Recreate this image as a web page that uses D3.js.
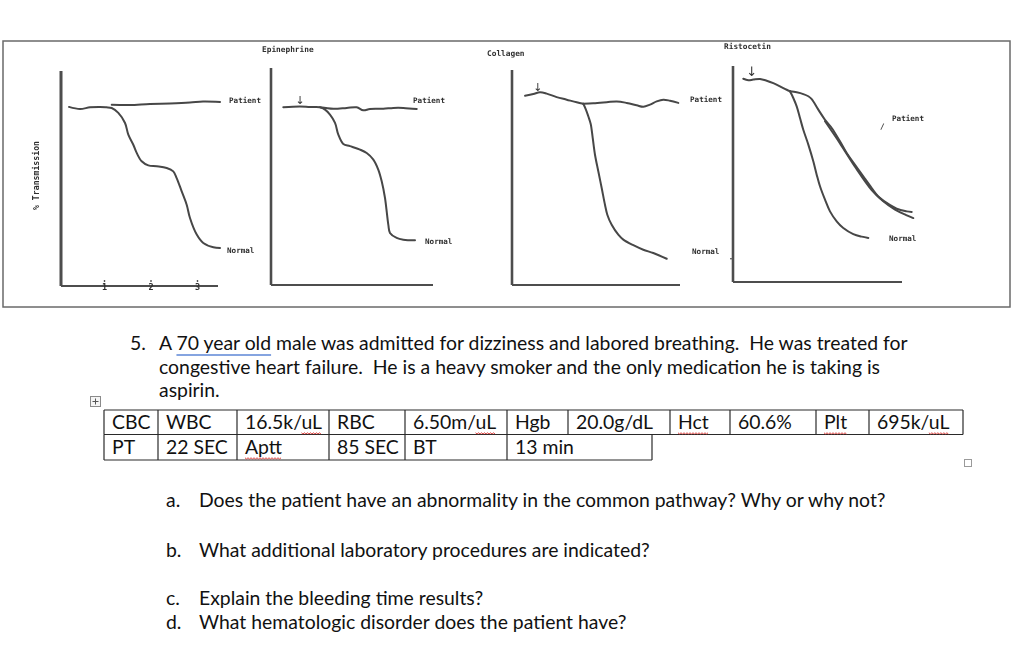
<!DOCTYPE html>
<html lang="en">
<head>
<meta charset="UTF-8">
<title>Platelet aggregation case study</title>
<script src="https://d3js.org/d3.v7.min.js"></script>
<style>
    html, body { margin: 0; padding: 0; background: #fff; }
    svg { display: block; }
    .scan-text {
        font-family: "DejaVu Sans Mono", "Liberation Mono", monospace;
        font-weight: 700;
        fill: #2e2e2e;
    }
    .trace {
        fill: none;
        stroke: #474747;
        stroke-width: 2px;
        stroke-linejoin: round;
        stroke-linecap: round;
    }
    .doc-text {
        font-family: Lato, "Open Sans", sans-serif;
        fill: #111;
        white-space: pre;
    }
</style>
</head>
<body>
<svg id="page" width="1024" height="664"></svg>
<script>
// time in minutes, y = % transmission (0 at top of trace paper)
const p1Normal = [[0.247,16.7],[0.484,17.7],[0.699,16.9],[0.914,16.7],[1.05,16.9],[1.166,17.2],[1.308,19.5],[1.452,24.2],[1.523,29.6],[1.630,34.3],[1.703,38.1],[1.810,42.0],[1.953,43.9],[2.133,44.3],[2.348,45.1],[2.490,46.7],[2.563,49.8],[2.671,56.0],[2.778,62.2],[2.849,68.4],[2.994,76.1],[3.135,80.0],[3.351,82.0],[3.495,82.3]];
const p1Patient = [[1.166,15.7],[1.559,15.8],[1.989,15.3],[2.419,15.1],[2.849,14.7],[3.129,14.2],[3.495,14.4]];

const p2Normal = [[0.340,18.1],[0.699,17.7],[0.914,18.0],[1.129,18.1],[1.237,19.2],[1.344,21.5],[1.452,25.3],[1.523,30.7],[1.630,35.0],[1.774,36.0],[1.989,37.6],[2.133,39.2],[2.276,42.2],[2.384,46.9],[2.456,52.2],[2.527,59.9],[2.598,72.2],[2.634,76.0],[2.778,78.3],[2.921,79.1],[3.172,79.4]];
const p2Patient = [[1.129,18.1],[1.415,18.8],[1.703,18.4],[1.918,18.1],[2.060,19.5],[2.204,18.9],[2.490,18.8],[2.705,18.4],[2.921,18.4],[3.209,18.9]];

const p3Lead = [[0.355,12.0],[0.534,11.2],[0.677,10.4],[0.821,11.0],[1.036,12.6],[1.252,13.8],[1.467,15.0],[1.609,15.7]];
const p3Patient = [[1.609,15.7],[1.824,15.5],[2.112,15.0],[2.327,14.6],[2.542,15.3],[2.757,16.4],[2.899,17.1],[3.043,16.1],[3.187,14.6],[3.329,13.8],[3.473,14.3],[3.652,15.3]];
const p3Normal = [[1.609,15.7],[1.667,18.5],[1.716,21.5],[1.768,25.1],[1.811,31.6],[1.860,39.4],[1.931,47.1],[2.004,54.9],[2.075,62.7],[2.125,67.3],[2.219,72.0],[2.361,76.6],[2.469,78.9],[2.684,81.5],[2.899,83.6],[3.114,85.1],[3.402,87.8]];

const p4Lead = [[0.297,5.9],[0.404,6.6],[0.512,6.3],[0.656,6.0],[0.800,6.8],[0.942,7.9],[1.086,9.4],[1.230,11.0],[1.301,11.7]];
const p4Normal = [[1.301,11.7],[1.372,14.8],[1.445,18.7],[1.516,24.1],[1.587,29.5],[1.695,36.4],[1.802,44.1],[1.875,50.3],[1.946,55.7],[2.054,61.9],[2.161,67.3],[2.305,71.9],[2.447,75.0],[2.662,77.8],[2.843,79.0],[2.985,79.6]];
const p4Patient = [[1.301,11.7],[1.445,12.2],[1.587,13.0],[1.695,14.0],[1.768,15.3],[1.910,20.2],[2.054,24.9],[2.198,28.7],[2.376,34.9],[2.520,40.3],[2.699,45.7],[2.877,51.1],[3.058,56.5],[3.200,60.4],[3.381,63.4],[3.596,66.1],[3.811,67.3],[3.918,67.6]];
const p4PatientEcho = [[2.054,25.6],[2.376,35.8],[2.699,46.6],[3.058,57.4],[3.300,62.5],[3.560,66.5],[3.800,69.0],[3.953,70.4]];

const agonists = ["", "Epinephrine", "Collagen", "Ristocetin"];
const arrowTimes = [null, 0.70, 0.63, 0.48];
const timeTicks = [1, 2, 3];
const yAxisTitle = "% Transmission";

const caseNumber = "5.";
const caseLines = [
    "A 70 year old male was admitted for dizziness and labored breathing.  He was treated for",
    "congestive heart failure.  He is a heavy smoker and the only medication he is taking is",
    "aspirin."
];
const labRow1 = ["CBC", "WBC", "16.5k/uL", "RBC", "6.50m/uL", "Hgb", "20.0g/dL", "Hct", "60.6%", "Plt", "695k/uL"];
const labRow2 = ["PT", "22 SEC", "Aptt", "85 SEC", "BT", "13 min"];
// [row, col, first char, length] flagged by the spell checker
const spellFlags = [[0, 2, 6, 2], [0, 4, 6, 2], [1, 2, 0, 4], [0, 7, 0, 3], [0, 9, 0, 3], [0, 10, 5, 2]];
const questionMarks = ["a.", "b.", "c.", "d."];
const questions = [
    "Does the patient have an abnormality in the common pathway? Why or why not?",
    "What additional laboratory procedures are indicated?",
    "Explain the bleeding time results?",
    "What hematologic disorder does the patient have?"
];

// ---- layout ----
const PX_PER_MIN = 46.5;
const frames = [
    { axisX: 61,  xEnd: 218, yTop: 71, yBottom: 286, arrowY: 0,
      labels: [["Patient", 229, 103], ["Normal", 227, 253]] },
    { axisX: 271, xEnd: 433, yTop: 68, yBottom: 285, arrowY: 104, titleX: 262, titleY: 52,
      labels: [["Patient", 413, 103], ["Normal", 425, 244]] },
    { axisX: 512, xEnd: 680, yTop: 70, yBottom: 285, arrowY: 91, titleX: 487, titleY: 56,
      labels: [["Patient", 690, 102], ["Normal", 692, 254]] },
    { axisX: 733, xEnd: 902, yTop: 66, yBottom: 282, arrowY: 76, titleX: 724, titleY: 49,
      labels: [["Patient", 892, 121], ["/", 880, 129], ["Normal", 889, 241]] }
];
const panelSeries = [
    [[p1Normal, 2.2], [p1Patient, 2.2]],
    [[p2Normal, 2], [p2Patient, 2]],
    [[p3Lead, 2], [p3Patient, 2], [p3Normal, 2]],
    [[p4Lead, 1.8], [p4Normal, 1.8], [p4Patient, 2.6], [p4PatientEcho, 1.2]]
];

const svg = d3.select("#page");

const defs = svg.append("defs");
defs.append("filter").attr("id", "scan")
    .append("feGaussianBlur").attr("stdDeviation", 0.35);

// scanned figure box
svg.append("rect")
    .attr("x", 3).attr("y", 41)
    .attr("width", 1007).attr("height", 266)
    .attr("fill", "none")
    .attr("stroke", "#6a6a6a")
    .attr("stroke-width", 1.5);

const scan = svg.append("g").attr("filter", "url(#scan)");

frames.forEach((f, i) => {
    const x = d3.scaleLinear()
        .domain([0, (f.xEnd - f.axisX + 3.5) / PX_PER_MIN])
        .range([f.axisX - 3.5, f.xEnd]);
    const y = d3.scaleLinear().domain([0, 100]).range([f.yTop, f.yBottom]);
    const g = scan.append("g");

    // axes
    g.append("line")
        .attr("x1", f.axisX).attr("x2", f.axisX)
        .attr("y1", f.yTop).attr("y2", f.yBottom)
        .attr("stroke", "#4d4d4d").attr("stroke-width", i === 0 ? 3 : 2.6);
    g.append("line")
        .attr("x1", f.axisX).attr("x2", f.xEnd)
        .attr("y1", f.yBottom).attr("y2", f.yBottom)
        .attr("stroke", "#4d4d4d").attr("stroke-width", 2);

    if (i === 0) {
        const ax = g.append("g")
            .attr("transform", `translate(0,${f.yBottom})`)
            .call(d3.axisBottom(x).tickValues(timeTicks).tickFormat(d3.format("d"))
                .tickSize(-4).tickPadding(0));
        ax.select(".domain").remove();
        ax.selectAll("line").attr("stroke", "#555").attr("stroke-width", 1.4)
            .attr("y1", -4).attr("y2", -6);
        ax.selectAll("text")
            .attr("class", "scan-text")
            .attr("dy", "0.5em")
            .style("font-size", "8.5px");

        g.append("text")
            .attr("class", "scan-text")
            .attr("transform", `translate(39,${(f.yTop + f.yBottom) / 2 - 3}) rotate(-90)`)
            .attr("text-anchor", "middle")
            .style("font-size", "8.2px")
            .text(yAxisTitle);
    }
    if (i === 3) {
        const ay = g.append("g")
            .attr("transform", `translate(${f.axisX},0)`)
            .call(d3.axisLeft(y).tickValues([89]).tickSize(3).tickFormat(""));
        ay.select(".domain").remove();
        ay.selectAll("line").attr("stroke", "#555").attr("stroke-width", 1.2);
    }

    const line = d3.line()
        .x(d => x(d[0]))
        .y(d => y(d[1]))
        .curve(d3.curveCatmullRom.alpha(0.5));

    panelSeries[i].forEach(([data, w]) => {
        g.append("path")
            .attr("class", "trace")
            .attr("stroke-width", w)
            .attr("d", line(data));
    });

    if (agonists[i]) {
        g.append("text")
            .attr("class", "scan-text")
            .attr("x", f.titleX).attr("y", f.titleY)
            .style("font-size", "7.8px")
            .text(agonists[i]);
    }
    if (arrowTimes[i] !== null) {
        g.append("text")
            .attr("x", x(arrowTimes[i])).attr("y", f.arrowY)
            .attr("text-anchor", "middle")
            .style("font-family", "DejaVu Sans")
            .style("font-size", i === 3 ? "13px" : "11px")
            .attr("fill", "#333")
            .text("\u2193");
    }
    f.labels.forEach(([t, lx, ly]) => {
        g.append("text")
            .attr("class", "scan-text")
            .attr("x", lx).attr("y", ly)
            .style("font-size", "7.6px")
            .text(t);
    });
});

// ---- document text ----
const probe = svg.append("text").attr("class", "doc-text")
    .style("font-size", "100px").text(caseLines[0]);
const docSize = 100 * 749 / probe.node().getComputedTextLength();
probe.remove();

function docText(str, x, yy) {
    return svg.append("text")
        .attr("class", "doc-text")
        .attr("xml:space", "preserve")
        .attr("x", x).attr("y", yy)
        .style("font-size", docSize + "px")
        .text(str);
}

function squiggle(x0, x1, yy, color) {
    const pts = [];
    for (let px = x0, k = 0; px <= x1; px += 1.5, k++) pts.push([px, yy + (k % 2 ? 1 : -0.2)]);
    svg.append("path")
        .attr("d", d3.line()(pts))
        .attr("fill", "none")
        .attr("stroke", color)
        .attr("stroke-width", 0.9);
}

docText(caseNumber, 130, 350);
const caseBaselines = [350, 374, 397];
const caseNodes = caseLines.map((s, i) => docText(s, 159, caseBaselines[i]));

// blue grammar underline under "70 year old"
{
    const n = caseNodes[0].node();
    const a = 159 + n.getSubStringLength(0, 2);
    const b = a + n.getSubStringLength(2, 11);
    svg.append("line")
        .attr("x1", a).attr("x2", b).attr("y1", 355).attr("y2", 355)
        .attr("stroke", "#5d86d6").attr("stroke-width", 1.6);
}

// table handle
svg.append("rect").attr("x", 90.5).attr("y", 396.5).attr("width", 10).attr("height", 10)
    .attr("fill", "#f4f4f4").attr("stroke", "#8a8a8a");
svg.append("path").attr("d", "M92.5,401.5H98.5M95.5,398.5V404.5")
    .attr("stroke", "#555").attr("stroke-width", 1);

// lab table
const rowEdges = [
    [104, 158, 237, 329, 405, 507, 568, 670, 730, 816, 869, 963],
    [104, 158, 237, 329, 405, 507, 652]
];
const rowTops = [410, 434.5, 460];
const rowBase = [429, 454];
const tableG = svg.append("g").attr("stroke", "#2a2a2a").attr("stroke-width", 1.2);
tableG.append("line").attr("x1", 104).attr("x2", 963).attr("y1", rowTops[0]).attr("y2", rowTops[0]);
tableG.append("line").attr("x1", 104).attr("x2", 963).attr("y1", rowTops[1]).attr("y2", rowTops[1]);
tableG.append("line").attr("x1", 104).attr("x2", 652).attr("y1", rowTops[2]).attr("y2", rowTops[2]);

const cellNodes = [[], []];
[labRow1, labRow2].forEach((row, r) => {
    rowEdges[r].forEach(ex => {
        tableG.append("line").attr("x1", ex).attr("x2", ex)
            .attr("y1", rowTops[r]).attr("y2", rowTops[r + 1]);
    });
    row.forEach((s, c) => {
        cellNodes[r][c] = docText(s, rowEdges[r][c] + 8, rowBase[r]);
    });
});

spellFlags.forEach(([r, c, st, len]) => {
    const n = cellNodes[r][c].node();
    const x0 = rowEdges[r][c] + 8 + (st ? n.getSubStringLength(0, st) : 0);
    const x1 = x0 + n.getSubStringLength(st, len);
    squiggle(x0, x1, rowBase[r] + 4, "#d9302c");
});

svg.append("rect").attr("x", 964.5).attr("y", 459.5).attr("width", 7).attr("height", 7)
    .attr("fill", "none").attr("stroke", "#9a9a9a");

// questions
const questionBaselines = [507, 557, 605, 629];
questions.forEach((q, i) => {
    docText(questionMarks[i], 166, questionBaselines[i]);
    docText(q, 199, questionBaselines[i]);
});
</script>
</body>
</html>
